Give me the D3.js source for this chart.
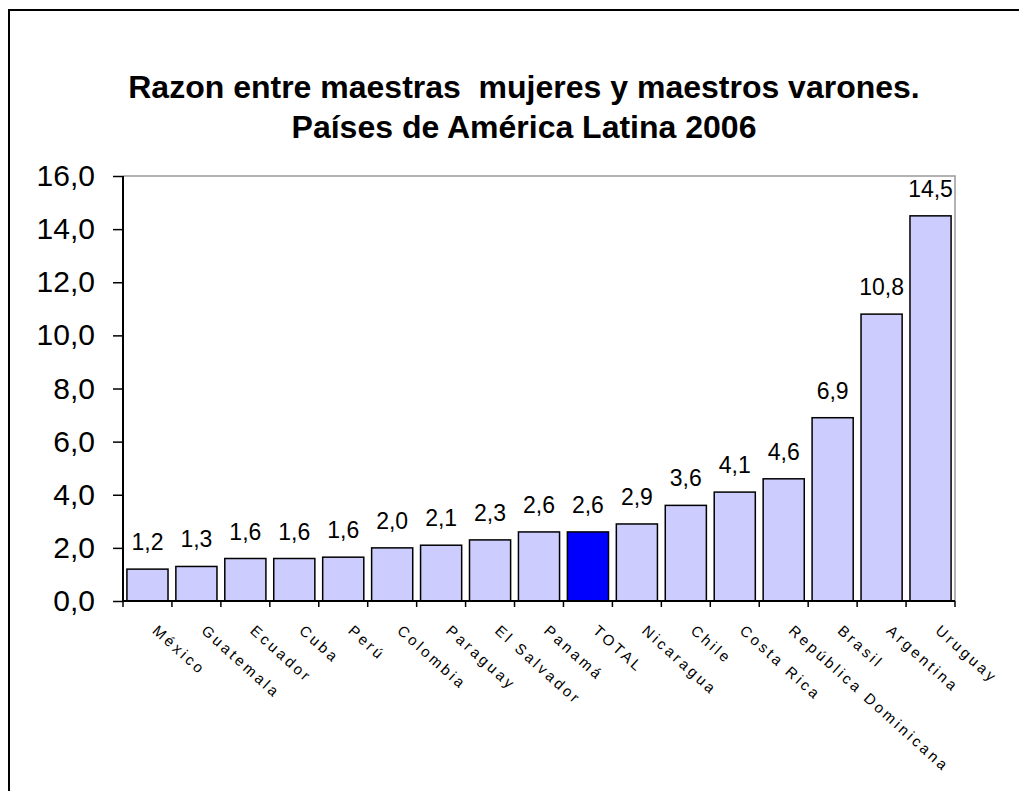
<!DOCTYPE html>
<html>
<head>
<meta charset="utf-8">
<script src="https://cdn.jsdelivr.net/npm/d3@7"></script>
<style>
  body { margin: 0; background: #fff; }
  text { font-family: "Liberation Sans", Arial, sans-serif; }
</style>
</head>
<body>
<div id="chart"></div>
<script>
////////
// Data: ratio of female to male teachers, sorted ascending
let countries = ["México", "Guatemala", "Ecuador", "Cuba", "Perú", "Colombia",
  "Paraguay", "El Salvador", "Panamá", "TOTAL", "Nicaragua", "Chile",
  "Costa Rica", "República Dominicana", "Brasil", "Argentina", "Uruguay"];
let ratios = [1.2, 1.3, 1.6, 1.6, 1.65, 2.0, 2.1, 2.3, 2.6, 2.6, 2.9, 3.6,
  4.1, 4.6, 6.9, 10.8, 14.5];
let yTicks = [0, 2, 4, 6, 8, 10, 12, 14, 16];
let highlight = "TOTAL";

let dataArray = countries.map((c, i) => ({ name: c, value: ratios[i] }));

////////
// SVG canvas
let svg_width = 1019;
let svg_height = 791;

let plot = { left: 123, right: 955, top: 176, bottom: 601 };

let svg = d3.select("#chart")
  .append("svg")
  .attr("width", svg_width)
  .attr("height", svg_height);

// outer frame (top and left edges visible)
svg.append("path")
  .attr("d", `M9,${svg_height} V10 H${svg_width}`)
  .attr("fill", "none")
  .attr("stroke", "#000")
  .attr("stroke-width", 2);

// title
let title = svg.append("text")
  .attr("text-anchor", "middle")
  .attr("font-size", 32)
  .attr("font-weight", "bold")
  .attr("xml:space", "preserve");
title.append("tspan").attr("x", 524).attr("y", 98)
  .text("Razon entre maestras  mujeres y maestros varones.");
title.append("tspan").attr("x", 524).attr("y", 138)
  .text("Países de América Latina 2006");

////////
// Scales
let xScale = d3.scaleBand()
  .domain(countries)
  .range([plot.left, plot.right])
  .paddingInner(0.16)
  .paddingOuter(0.08);

let yScale = d3.scaleLinear()
  .domain([0, 16])
  .range([plot.bottom, plot.top]);

// plot area border (gray top and right)
svg.append("path")
  .attr("d", `M${plot.left},${plot.top} H${plot.right} V${plot.bottom}`)
  .attr("fill", "none")
  .attr("stroke", "#999")
  .attr("stroke-width", 1.5);

////////
// Bars
svg.selectAll("rect.bar")
  .data(dataArray)
  .enter()
  .append("rect")
  .attr("class", "bar")
  .attr("x", d => xScale(d.name))
  .attr("y", d => yScale(d.value))
  .attr("width", xScale.bandwidth())
  .attr("height", d => yScale(0) - yScale(d.value))
  .attr("fill", d => d.name === highlight ? "#0000FF" : "#CCCCFF")
  .attr("stroke", "#000")
  .attr("stroke-width", 1.5);

// value labels
svg.selectAll("text.val")
  .data(dataArray)
  .enter()
  .append("text")
  .attr("class", "val")
  .attr("x", d => xScale(d.name) + xScale.bandwidth() / 2)
  .attr("y", d => yScale(d.value) - 19)
  .attr("text-anchor", "middle")
  .attr("font-size", 23)
  .text(d => d3.format(".1f")(d.value).replace(".", ","));

////////
// Axes
let yAxis = d3.axisLeft(yScale)
  .tickValues(yTicks)
  .tickSize(10)
  .tickPadding(18)
  .tickFormat(d => d3.format(".1f")(d).replace(".", ","));

let gy = svg.append("g")
  .attr("transform", `translate(${plot.left},0)`)
  .call(yAxis);
gy.select(".domain").attr("stroke-width", 2).attr("d", `M0,${plot.top}V${plot.bottom}`);
gy.selectAll(".tick line").attr("stroke-width", 1.5);
gy.selectAll(".tick text")
  .attr("font-size", 30)
  .attr("fill", "#000")
  .attr("font-family", "Liberation Sans, Arial, sans-serif");

// x axis line with ticks at band boundaries
let edgeScale = d3.scaleLinear()
  .domain([0, countries.length])
  .range([plot.left, plot.right]);

svg.append("line")
  .attr("x1", plot.left).attr("x2", plot.right)
  .attr("y1", plot.bottom).attr("y2", plot.bottom)
  .attr("stroke", "#000").attr("stroke-width", 2);

svg.selectAll("line.xtick")
  .data(d3.range(countries.length + 1))
  .enter()
  .append("line")
  .attr("class", "xtick")
  .attr("x1", d => edgeScale(d)).attr("x2", d => edgeScale(d))
  .attr("y1", plot.bottom).attr("y2", plot.bottom + 6)
  .attr("stroke", "#000").attr("stroke-width", 1.5);

// rotated category labels
svg.selectAll("text.cat")
  .data(countries)
  .enter()
  .append("text")
  .attr("class", "cat")
  .attr("transform", d => `translate(${xScale(d) + xScale.bandwidth() / 2 + 4},${plot.bottom + 31}) rotate(42)`)
  .attr("text-anchor", "start")
  .attr("font-size", 15)
  .attr("letter-spacing", 3)
  .text(d => d);
</script>
</body>
</html>
